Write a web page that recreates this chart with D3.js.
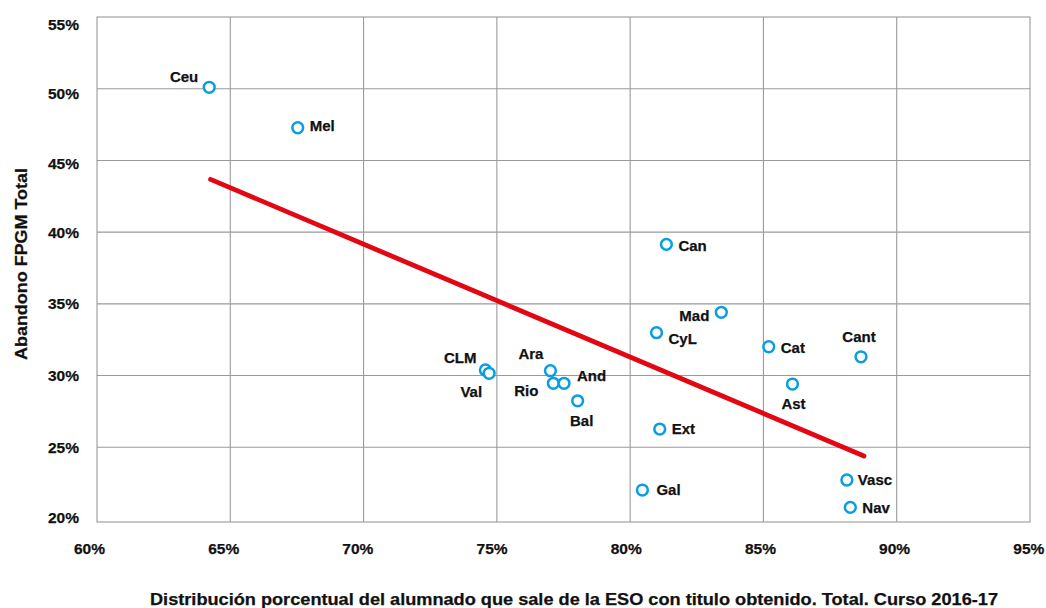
<!DOCTYPE html>
<html>
<head>
<meta charset="utf-8">
<script src="https://cdn.jsdelivr.net/npm/d3@7"></script>
<style>
  html, body { margin: 0; padding: 0; background: #fff; }
  svg { display: block; }
  text { font-family: "Liberation Sans", Arial, sans-serif; font-weight: bold; fill: #111; stroke: #111; stroke-width: 0.25px; }
</style>
</head>
<body>
<svg id="chart" width="1046" height="608"></svg>
<script>
// ---- Data ----
const regions = ["Ceu","Mel","CLM","Val","Ara","Rio","And","Bal","Ext","CyL","Can","Mad","Cat","Cant","Ast","Gal","Vasc","Nav"];
const titulados = [64.21,67.53,74.57,74.71,77.01,77.12,77.52,78.03,81.11,80.99,81.36,83.42,85.20,88.66,86.09,80.46,88.13,88.26];
const abandono  = [50.10,47.28,30.39,30.16,30.34,29.46,29.46,28.24,26.27,32.99,39.15,34.41,32.01,31.31,29.41,22.02,22.72,20.81];
const trendX = [64.26, 88.77];
const trendY = [43.68, 24.39];
const xTicks = [60,65,70,75,80,85,90,95];
const yTicks = [20,25,30,35,40,45,50,55];
const xTitle = "Distribución porcentual del alumnado que sale de la ESO con titulo obtenido. Total. Curso 2016-17";
const yTitle = "Abandono FPGM Total";

// ---- Label placement (style, not data) ----
const labelPos = {
  Ceu:[-11,-11,"end"], Mel:[12,-2,"start"], CLM:[-9,-12,"end"], Val:[-7,18,"end"],
  Ara:[-7,-17,"end"], Rio:[-15,7,"end"], And:[13,-8,"start"], Bal:[4,20,"middle"],
  Ext:[12,0,"start"], CyL:[12,6,"start"], Can:[12,1,"start"], Mad:[-12,3,"end"],
  Cat:[12,1,"start"], Cant:[-2,-20,"middle"], Ast:[1,20,"middle"], Gal:[14,0,"start"],
  Vasc:[11,0,"start"], Nav:[12,0,"start"]
};

const svg = d3.select("#chart");
const L = 97, R = 1030, T = 17, B = 522;
const x = d3.scaleLinear().domain([60,95]).range([L,R]);
const y = d3.scaleLinear().domain([20,55]).range([519,T]);

// grid
const grid = svg.append("g").attr("stroke","#9a9a9a").attr("stroke-width",1.1).attr("fill","none");
grid.selectAll("line.v").data(xTicks.slice(1,-1)).join("line")
  .attr("x1",d=>x(d)).attr("x2",d=>x(d)).attr("y1",T).attr("y2",B);
grid.selectAll("line.h").data(yTicks.slice(1,-1)).join("line")
  .attr("class","h").attr("x1",L).attr("x2",R).attr("y1",d=>y(d)).attr("y2",d=>y(d));
grid.append("rect").attr("x",L).attr("y",T).attr("width",R-L).attr("height",B-T);

// axes (labels only)
const xAxis = d3.axisBottom(x).tickValues(xTicks).tickFormat(d=>d+"%").tickSize(0).tickPadding(0);
const gx = svg.append("g").attr("transform",`translate(0,${B})`).call(xAxis);
gx.select(".domain").remove();
gx.selectAll("text").attr("y",32).attr("dy",0).attr("dx",(d,i)=>-8+i*0.9).style("font-size","15.5px")
  .style("font-family","'Liberation Sans', Arial, sans-serif").style("font-weight","bold");

const yAxis = d3.axisLeft(y).tickValues(yTicks).tickFormat(d=>d+"%").tickSize(0).tickPadding(0);
const gy = svg.append("g").attr("transform",`translate(${L},0)`).call(yAxis);
gy.select(".domain").remove();
gy.selectAll("text").attr("x",-18).attr("dy","0.36em").style("font-size","15.5px")
  .style("font-family","'Liberation Sans', Arial, sans-serif").style("font-weight","bold");
gy.selectAll(".tick").attr("transform",d=>`translate(0,${y(d)+ (d===55?7:d===50?5:d===45?3:d===20?-2:0)})`);

// trend line
const pts = trendX.map((v,i)=>[v,trendY[i]]);
svg.append("path").datum(pts)
  .attr("d", d3.line().x(d=>x(d[0])).y(d=>y(d[1])))
  .attr("stroke","#e30613").attr("stroke-width",4.8).attr("stroke-linecap","round").attr("fill","none");

// points
const data = regions.map((r,i)=>({r, xv:titulados[i], yv:abandono[i]}));
svg.append("g").selectAll("circle").data(data).join("circle")
  .attr("cx",d=>x(d.xv)).attr("cy",d=>y(d.yv)).attr("r",5.4)
  .attr("fill","#fff").attr("stroke","#0a9ee0").attr("stroke-width",2.5);

svg.append("g").selectAll("text").data(data).join("text")
  .attr("x",d=>x(d.xv)+labelPos[d.r][0]).attr("y",d=>y(d.yv)+labelPos[d.r][1])
  .attr("dy","0.36em").attr("text-anchor",d=>labelPos[d.r][2])
  .style("font-size","15px").text(d=>d.r);

// titles
svg.append("text").attr("x",574).attr("y",604.5).attr("text-anchor","middle")
  .attr("textLength",848).attr("lengthAdjust","spacingAndGlyphs")
  .style("font-size","17px").text(xTitle);
svg.append("text").attr("transform","translate(26.5,264) rotate(-90)").attr("text-anchor","middle")
  .attr("textLength",192).attr("lengthAdjust","spacingAndGlyphs")
  .style("font-size","17px").text(yTitle);
</script>
</body>
</html>
